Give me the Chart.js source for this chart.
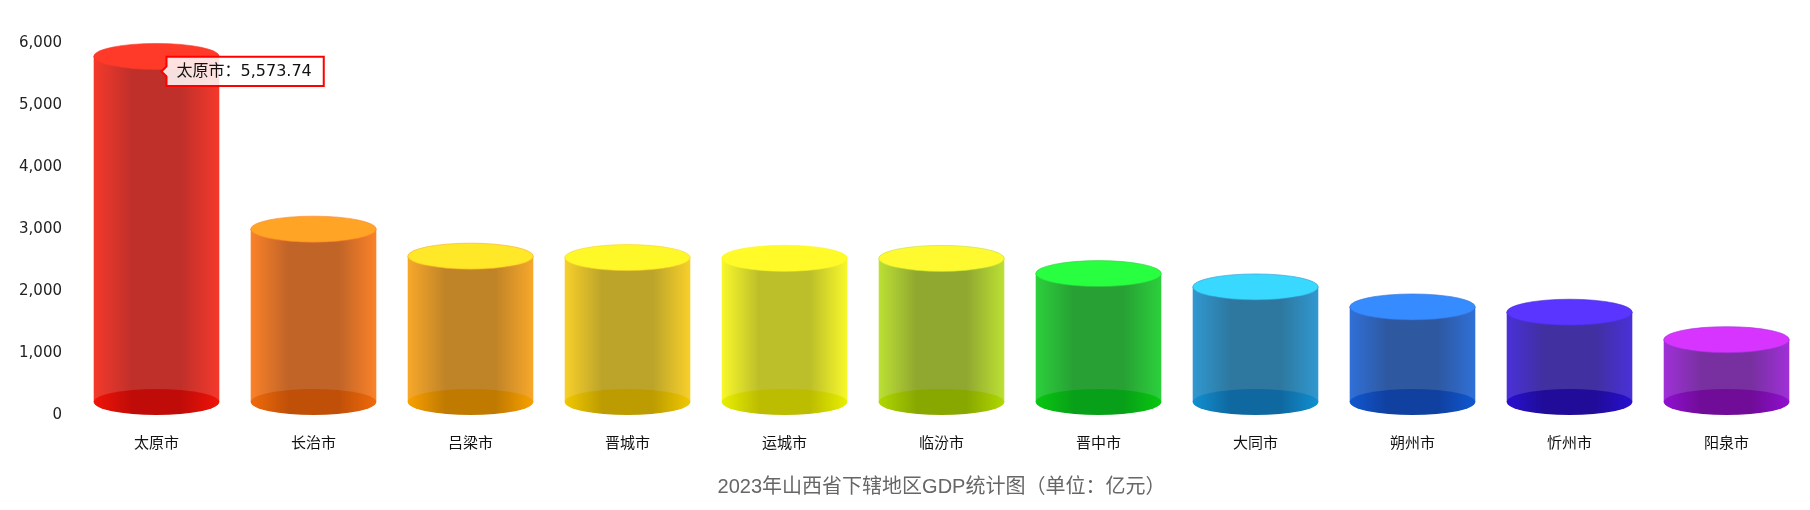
<!DOCTYPE html>
<html>
<head>
<meta charset="utf-8">
<script src="https://cdn.jsdelivr.net/npm/chart.js@4.4.0/dist/chart.umd.min.js"></script>
<style>
	html, body { margin: 0; padding: 0; background: #fff; }
	#box { width: 1810px; height: 510px; }
</style>
</head>
<body>
<div id="box"><canvas id="gdpChart" width="1810" height="510"></canvas></div>
<script>
// 2023年山西省各市GDP（亿元）
const cities = ['太原市', '长治市', '吕梁市', '晋城市', '运城市', '临汾市', '晋中市', '大同市', '朔州市', '忻州市', '阳泉市']
const gdp = [5573.74, 2788, 2352, 2329, 2318, 2316, 2071, 1856, 1533, 1448, 1006]
const yTicks = [0, 1000, 2000, 3000, 4000, 5000, 6000]
const chartTitle = '2023年山西省下辖地区GDP统计图（单位：亿元）'

// 每根圆柱的颜色: 顶面, 侧面边缘, 侧面中间, 底面边缘, 底面中间
const palette = [
	['#ff3a28', '#f5392c', '#c0302a', '#f01408', '#c00c08'],
	['#ffa424', '#fb8228', '#c06428', '#f06a0a', '#c05008'],
	['#ffe828', '#f8a82a', '#c08428', '#f8a000', '#c07a00'],
	['#fff828', '#f8d02a', '#bca42a', '#f0c800', '#bc9c00'],
	['#fffa28', '#f8f82a', '#bcbe2a', '#e8f000', '#bcbc00'],
	['#fffa30', '#bce034', '#90a830', '#b0d800', '#88a800'],
	['#28ff40', '#2cd03c', '#28a034', '#08c810', '#08a018'],
	['#38d8ff', '#3098d0', '#2e78a0', '#1090d0', '#1068a0'],
	['#368cff', '#3070d8', '#2e58a0', '#1058d0', '#1040a0'],
	['#5a34ff', '#4a30d8', '#4030a0', '#2810d0', '#200c98'],
	['#d834ff', '#a030d8', '#7830a0', '#9010d0', '#700c98'],
]

const RY = 13

function hGrad(ctx, left, w, edge, mid) {
	const g = ctx.createLinearGradient(left, 0, left + w, 0)
	g.addColorStop(0, edge)
	g.addColorStop(0.3, mid)
	g.addColorStop(0.7, mid)
	g.addColorStop(1, edge)
	return g
}

// 画圆柱：柱身 + 底面椭圆 + 顶面椭圆
const cylinderPlugin = {
	id: 'cylinder',
	afterDatasetsDraw(chart) {
		const ctx = chart.ctx
		const meta = chart.getDatasetMeta(0)
		meta.data.forEach((bar, i) => {
			const { x, y, base, width } = bar.getProps(['x', 'y', 'base', 'width'], true)
			const rx = width / 2
			const left = x - rx
			const top = y - RY
			const bottom = base - RY
			const [cTop, cEdge, cMid, bEdge, bMid] = palette[i]

			ctx.save()
			ctx.fillStyle = hGrad(ctx, left, width, cEdge, cMid)
			ctx.fillRect(left, top, width, bottom - top)

			ctx.beginPath()
			ctx.ellipse(x, bottom, rx, RY, 0, 0, Math.PI * 2)
			ctx.fillStyle = hGrad(ctx, left, width, bEdge, bMid)
			ctx.fill()

			ctx.beginPath()
			ctx.ellipse(x, top, rx, RY, 0, 0, Math.PI * 2)
			ctx.fillStyle = cTop
			ctx.fill()
			ctx.lineWidth = 1
			ctx.strokeStyle = cEdge
			ctx.globalAlpha = 0.6
			ctx.stroke()
			ctx.restore()
		})
	},
}

Chart.Tooltip.positioners.barTop = function (items) {
	if (!items.length) return false
	const el = items[0].element
	return { x: el.x, y: el.y + 2 }
}

const ctx = document.getElementById('gdpChart').getContext('2d')
const gdpChart = new Chart(ctx, {
	type: 'bar',
	data: {
		labels: cities,
		datasets: [
			{
				label: 'GDP',
				data: gdp,
				backgroundColor: 'rgba(0,0,0,0)',
				borderWidth: 0,
				barPercentage: 0.8,
				categoryPercentage: 1,
			},
		],
	},
	plugins: [cylinderPlugin],
	options: {
		responsive: false,
		animation: false,
		devicePixelRatio: 1,
		locale: 'en-US',
		events: [],
		layout: {
			padding: { top: 43, right: 5, bottom: 11, left: 0 },
		},
		scales: {
			x: {
				grid: { display: false },
				border: { display: false },
				ticks: {
					padding: 10,
					color: '#111',
					font: { size: 15, family: '"Noto Sans CJK SC", sans-serif' },
				},
				afterFit(scale) {
					scale.height = 50
				},
			},
			y: {
				min: 0,
				max: 6000,
				afterBuildTicks(scale) {
					scale.ticks = yTicks.map(v => ({ value: v }))
				},
				grid: { display: false },
				border: { display: false },
				ticks: {
					padding: 8,
					color: '#222',
					font: { size: 15, family: '"DejaVu Sans", sans-serif' },
					callback: v => v.toLocaleString('en-US'),
				},
				afterFit(scale) {
					scale.width = 78
				},
			},
		},
		plugins: {
			legend: { display: false },
			title: {
				display: true,
				text: chartTitle,
				position: 'bottom',
				fullSize: false,
				color: '#666',
				padding: { top: 10, bottom: 0 },
				font: { size: 20, weight: 'normal', family: '"Liberation Sans", "Noto Sans CJK SC", sans-serif' },
			},
			tooltip: {
				enabled: true,
				position: 'barTop',
				xAlign: 'left',
				yAlign: 'center',
				caretSize: 5,
				caretPadding: 5,
				cornerRadius: 0,
				displayColors: false,
				backgroundColor: 'rgba(255,255,255,0.85)',
				borderColor: '#ff0000',
				borderWidth: 2,
				bodyColor: '#111',
				bodyFont: { size: 16, family: '"DejaVu Sans", "Noto Sans CJK SC", sans-serif' },
				padding: { top: 5, bottom: 5, left: 10, right: 12 },
				callbacks: {
					title: () => '',
					label: item => item.label + '：' + item.formattedValue,
				},
			},
		},
	},
})

// 默认显示太原市的提示框
gdpChart.tooltip.setActiveElements([{ datasetIndex: 0, index: 0 }], { x: 0, y: 0 })
gdpChart.update()
</script>
</body>
</html>
